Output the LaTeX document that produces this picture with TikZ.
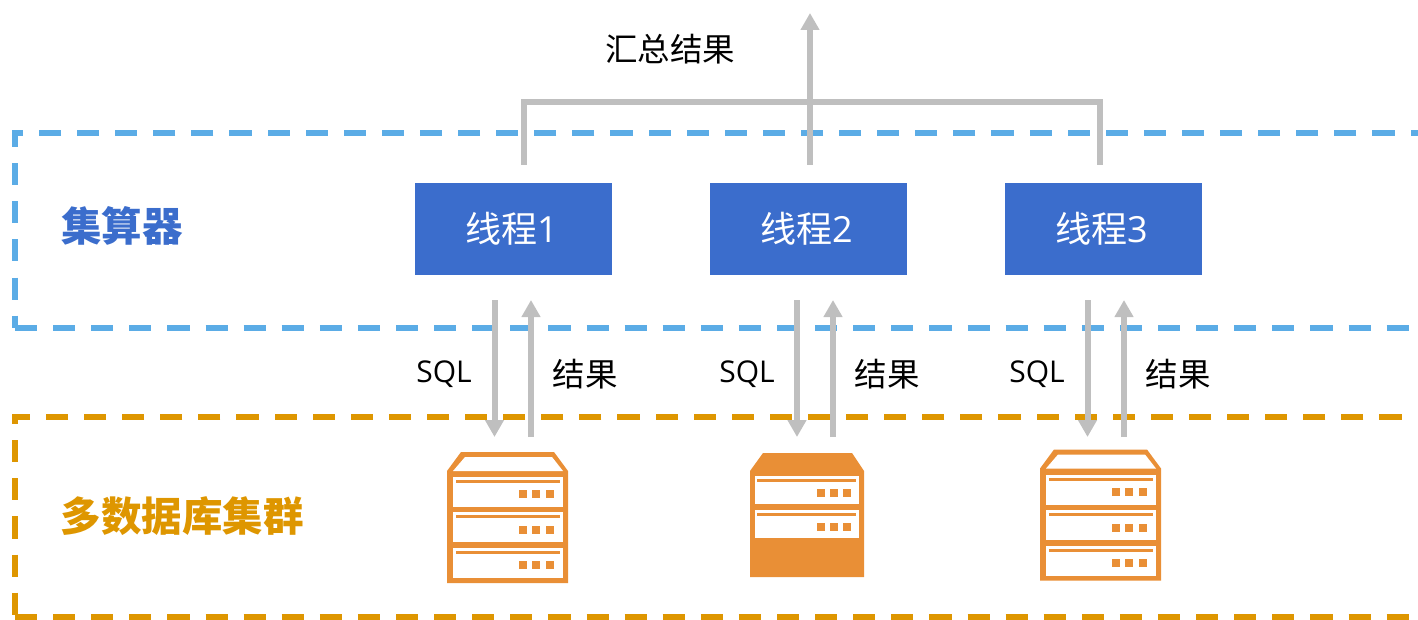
\documentclass[tikz,border=0pt]{standalone}
\usepackage{fontspec}
\setmainfont{Open Sans}
\newfontfamily\cjk{Noto Sans CJK SC}
\usetikzlibrary{arrows.meta}
\definecolor{bluedash}{HTML}{5BACE6}
\definecolor{orangedash}{HTML}{DE9600}
\definecolor{boxblue}{HTML}{3B6DCC}
\definecolor{linegray}{HTML}{BFBFBF}
\definecolor{iconorange}{HTML}{E98F36}
\newcommand{\threadname}[1]{线程{\fontspec{Open Sans}#1}\kern4pt}
\tikzset{
  bluezone/.style={draw=bluedash,line width=5.5pt,dash pattern=on 22.1pt off 16pt},
  orangezone/.style={draw=orangedash,line width=5.5pt,dash pattern=on 22.1pt off 16pt},
  thread/.style={fill=boxblue,text=white,minimum width=197pt,minimum height=92pt,inner sep=0pt,font=\cjk\fontsize{36}{36}\selectfont},
  flow/.style={draw=linegray,line width=6pt},
  flowarrow/.style={flow,-{Triangle[width=18pt,length=17pt]}},
  label/.style={inner sep=0pt,font=\cjk\fontsize{32.5}{32.5}\selectfont},
  sqllabel/.style={inner sep=0pt,font=\fontsize{30}{30}\selectfont},
  zonelabel/.style={inner sep=0pt,font=\cjk\bfseries\fontsize{40.5}{40.5}\selectfont},
  pics/serverbox/.style={code={
    \fill[iconorange] (14,0) -- (107,0) -- (121,19) -- (121,131) -- (0,131) -- (0,19) -- cycle;
    \fill[white] (18,5) -- (105,5) -- (116,19) -- (6,19) -- cycle;
    \fill[white] (6,25) rectangle (116,55);
    \fill[white] (6,60) rectangle (116,90);
    \fill[white] (6,96) rectangle (116,126);
    \fill[iconorange] (9,28) rectangle (113,31);
    \fill[iconorange] (9,63) rectangle (113,66);
    \fill[iconorange] (9,99) rectangle (113,102);
    \fill[iconorange] (72,38) rectangle (80,46);
    \fill[iconorange] (85,38) rectangle (93,46);
    \fill[iconorange] (99,38) rectangle (107,46);
    \fill[iconorange] (72,74) rectangle (80,82);
    \fill[iconorange] (85,74) rectangle (93,82);
    \fill[iconorange] (99,74) rectangle (107,82);
    \fill[iconorange] (72,109) rectangle (80,117);
    \fill[iconorange] (85,109) rectangle (93,117);
    \fill[iconorange] (99,109) rectangle (107,117);
  }},
  pics/serverfull/.style={code={
    \fill[iconorange] (13,0) -- (102,0) -- (114,18) -- (114,124) -- (0,124) -- (0,18) -- cycle;
    \fill[white] (5,23) rectangle (109,51);
    \fill[white] (5,57) rectangle (109,85);
    \fill[iconorange] (7,26) rectangle (106,29);
    \fill[iconorange] (7,60) rectangle (106,63);
    \fill[iconorange] (67,36) rectangle (75,44);
    \fill[iconorange] (80,36) rectangle (88,44);
    \fill[iconorange] (93,36) rectangle (101,44);
    \fill[iconorange] (67,70) rectangle (75,78);
    \fill[iconorange] (80,70) rectangle (88,78);
    \fill[iconorange] (93,70) rectangle (101,78);
  }},
}
\begin{document}
\begin{tikzpicture}[x=1pt,y=-1pt]
\clip (0,0) rectangle (1418,620);
% 虚线框
\draw[bluezone] (1432.6,133) -- (15,133) -- (15,328);
\draw[bluezone] (15,328) -- (1440,328);
\draw[orangezone] (1439.6,417) -- (15,417) -- (15,617);
\draw[orangezone] (15,617) -- (1440,617);
% 框的标题
\node[zonelabel,text=boxblue] (calc) at (122,226) {集算器};
\node[zonelabel,text=orangedash] (cluster) at (182,516) {多数据库集群};
% 线程
\node[thread] (thread1) at (513.5,229) {\threadname{1}};
\node[thread] (thread2) at (808.5,229) {\threadname{2}};
\node[thread] (thread3) at (1103.5,229) {\threadname{3}};
% 汇总
\coordinate (out1) at (524,165);
\coordinate (out2) at (810,165);
\coordinate (out3) at (1100,165);
\coordinate (bus) at (810,102);
\coordinate (top) at (810,13);
\draw[flow] (out1) |- (bus) -| (out3);
\draw[flowarrow] (out2) -- (top);
\node[label] (sum) at (670,49) {汇总结果};
% SQL和结果
\coordinate (down1a) at (494.5,300);
\coordinate (down1b) at (494.5,437);
\coordinate (up1a) at (531,437);
\coordinate (up1b) at (531,300);
\coordinate (down2a) at (797,300);
\coordinate (down2b) at (797,437);
\coordinate (up2a) at (833,437);
\coordinate (up2b) at (833,300);
\coordinate (down3a) at (1087.5,300);
\coordinate (down3b) at (1087.5,437);
\coordinate (up3a) at (1124,437);
\coordinate (up3b) at (1124,300);
\draw[flowarrow] (down1a) -- (down1b);
\draw[flowarrow] (up1a) -- (up1b);
\draw[flowarrow] (down2a) -- (down2b);
\draw[flowarrow] (up2a) -- (up2b);
\draw[flowarrow] (down3a) -- (down3b);
\draw[flowarrow] (up3a) -- (up3b);
\node[sqllabel] (sql1) at (444,374) {SQL};
\node[sqllabel] (sql2) at (747,374) {SQL};
\node[sqllabel] (sql3) at (1037,374) {SQL};
\node[label] (res1) at (585,374) {结果};
\node[label] (res2) at (887,374) {结果};
\node[label] (res3) at (1178,374) {结果};
% 数据库
\pic at (447,452) {serverbox};
\pic at (750,453) {serverfull};
\pic at (1040,449.5) {serverbox};
\end{tikzpicture}
\end{document}
